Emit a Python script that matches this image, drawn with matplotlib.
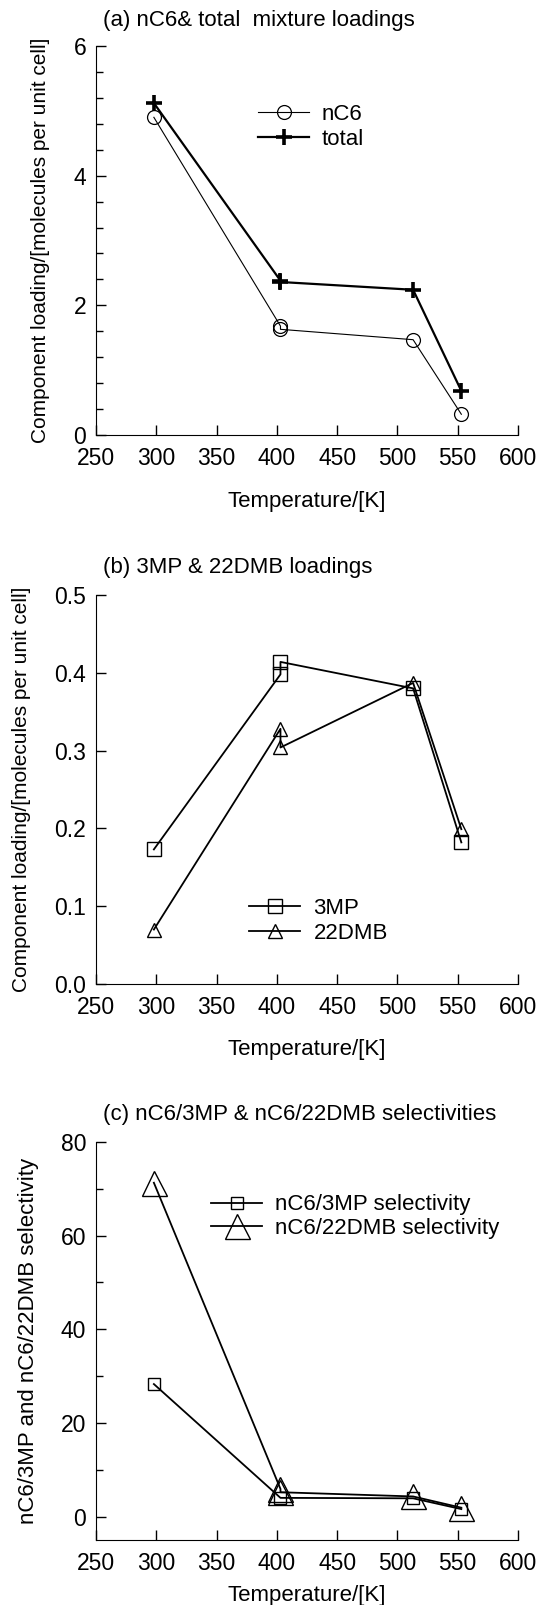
import matplotlib
matplotlib.use("Agg")
import matplotlib.pyplot as plt
from matplotlib.ticker import MultipleLocator, FixedLocator, FormatStrFormatter

plt.rcParams['font.family'] = ['Liberation Sans', 'DejaVu Sans']
plt.rcParams['font.size'] = 16

# (a) nC6 and total loadings
T_a = [298, 403, 403, 513, 553]
nC6 = [4.90, 1.68, 1.63, 1.47, 0.32]
total = [5.12, 2.38, 2.36, 2.24, 0.68]

# (b) 3MP and 22DMB loadings
T_b = [298, 403, 403, 513, 553]
mp3 = [0.173, 0.398, 0.414, 0.380, 0.182]
dmb22 = [0.070, 0.328, 0.304, 0.387, 0.199]

# (c) selectivities
T_c3 = [298, 403, 513, 553]
sel_3mp = [28.3, 4.0, 3.9, 1.6]
T_c22 = [298, 403, 403, 513, 553]
sel_22dmb = [71.3, 5.9, 5.2, 4.3, 1.9]

xticks = [250, 300, 350, 400, 450, 500, 550, 600]

fig = plt.figure(figsize=(5.37, 16.05), dpi=100)
left, width = 96 / 537, 422 / 537
ax_a = fig.add_axes([left, 1 - 435 / 1605, width, 389 / 1605])
ax_b = fig.add_axes([left, 1 - 984 / 1605, width, 389 / 1605])
ax_c = fig.add_axes([left, 1 - 1540 / 1605, width, 398 / 1605])


def style(ax, xlab_y):
    for s in ['top', 'right']:
        ax.spines[s].set_visible(False)
    ax.set_xlim(250, 600)
    ax.set_xticks(xticks)
    ax.tick_params(which='major', direction='in', length=7, width=1, pad=7,
                   labelsize=16.5)
    ax.tick_params(which='minor', direction='in', length=5, width=1)
    ax.tick_params(axis='x', pad=9)
    ax.set_xlabel('Temperature/[K]', fontsize=16)
    ax.xaxis.set_label_coords(0.5, xlab_y)


# panel a
ax_a.plot(T_a, nC6, '-o', color='black', lw=0.8, ms=10, mfc='none', mew=0.9, label='nC6')
ax_a.plot(T_a, total, '-+', color='black', lw=1.6, ms=12, mew=2.6, label='total')
style(ax_a, -0.145)
ax_a.set_ylim(0, 6)
ax_a.yaxis.set_major_locator(MultipleLocator(2))
ax_a.yaxis.set_minor_locator(MultipleLocator(0.4))
ax_a.set_ylabel('Component loading/[molecules per unit cell]', fontsize=15)
ax_a.yaxis.set_label_coords(-0.109, 0.5)
ax_a.text(0.017, 1.065, '(a) nC6& total  mixture loadings', transform=ax_a.transAxes,
          ha='left', va='center', fontsize=16)
ax_a.legend(loc='center left', bbox_to_anchor=(0.384, 0.792), frameon=False,
            borderpad=0, borderaxespad=0, handlelength=2.3, handletextpad=0.55,
            labelspacing=0.18, fontsize=16)

# panel b
ax_b.plot(T_b, mp3, '-s', color='black', lw=1.3, ms=9.5, mfc='none', mew=1.0, label='3MP')
ax_b.plot(T_b, dmb22, '-^', color='black', lw=1.3, ms=10, mfc='none', mew=1.0, label='22DMB')
style(ax_b, -0.142)
ax_b.set_ylim(0, 0.5)
ax_b.yaxis.set_major_locator(MultipleLocator(0.1))
ax_b.yaxis.set_major_formatter(FormatStrFormatter('%.1f'))
ax_b.set_ylabel('Component loading/[molecules per unit cell]', fontsize=15)
ax_b.yaxis.set_label_coords(-0.154, 0.5)
ax_b.text(0.017, 1.07, '(b) 3MP & 22DMB loadings', transform=ax_b.transAxes,
          ha='left', va='center', fontsize=16)
ax_b.legend(loc='center left', bbox_to_anchor=(0.3626, 0.162), frameon=False,
            borderpad=0, borderaxespad=0, handlelength=2.3, handletextpad=0.6,
            labelspacing=0.2, fontsize=16)

# panel c
ax_c.plot(T_c3, sel_3mp, '-s', color='black', lw=1.3, ms=8, mfc='none', mew=1.0,
          label='nC6/3MP selectivity')
ax_c.plot(T_c22, sel_22dmb, '-^', color='black', lw=1.3, ms=18, mfc='none', mew=1.0,
          label='nC6/22DMB selectivity')
style(ax_c, -0.113)
ax_c.set_ylim(-5, 80)
ax_c.set_yticks([0, 20, 40, 60, 80])
ax_c.yaxis.set_minor_locator(FixedLocator([10, 30, 50, 70]))
ax_c.set_ylabel('nC6/3MP and nC6/22DMB selectivity', fontsize=16)
ax_c.yaxis.set_label_coords(-0.135, 0.5)
ax_c.text(0.017, 1.07, '(c) nC6/3MP & nC6/22DMB selectivities', transform=ax_c.transAxes,
          ha='left', va='center', fontsize=16)
ax_c.legend(loc='center left', bbox_to_anchor=(0.2725, 0.812), frameon=False,
            borderpad=0, borderaxespad=0, handlelength=2.3, handletextpad=0.6,
            labelspacing=0.12, fontsize=16)

fig.savefig('out.png', dpi=100)
